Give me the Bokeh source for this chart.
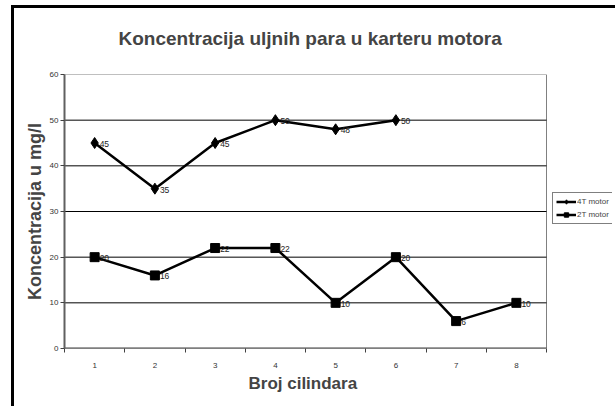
from bokeh.plotting import figure
from bokeh.models import (FixedTicker, Range1d, Legend, LegendItem, Title,
                          ColumnDataSource, InlineStyleSheet)
from bokeh.core.properties import value
from bokeh.embed import file_html
from bokeh.resources import INLINE

title_text = "Koncentracija uljnih para u karteru motora"
x_title = "Broj cilindara"
y_title = "Koncentracija u mg/l"

x_4t = [1, 2, 3, 4, 5, 6]
y_4t = [45, 35, 45, 50, 48, 50]
x_2t = [1, 2, 3, 4, 5, 6, 7, 8]
y_2t = [20, 16, 22, 22, 10, 20, 6, 10]
series_names = ["4T motor", "2T motor"]
y_ticks = [0, 10, 20, 30, 40, 50, 60]
x_ticks = [1, 2, 3, 4, 5, 6, 7, 8]

FONT = "Liberation Sans"

W, H = 615, 406
LEFT, TOP, BOTTOM, RIGHT = 64, 74, 58, 3
DATA_PX = 482          # pixel width of the plotted category area
frame_px = W - LEFT - RIGHT
x0 = 0.5
x1 = x_ticks[-1] + 0.5
x_end = x0 + (x1 - x0) * frame_px / DATA_PX

border_css = InlineStyleSheet(css="""
:host::after {
  content: "";
  position: absolute;
  left: 11px;
  top: 5px;
  width: calc(100% - 11px);
  height: calc(100% - 5px);
  border-left: 3px solid black;
  border-top: 3px solid black;
  box-sizing: border-box;
  pointer-events: none;
}
""")

p = figure(width=W, height=H, output_backend="svg", toolbar_location=None,
           x_range=Range1d(x0, x_end), y_range=Range1d(y_ticks[0], y_ticks[-1]),
           min_border_left=LEFT, min_border_right=RIGHT, min_border_top=TOP,
           min_border_bottom=BOTTOM)
p.stylesheets = [border_css]

p.title.text = title_text
p.title.align = "left"
p.title.offset = 54
p.title.text_font = FONT
p.title.text_font_size = "19px"
p.title.text_font_style = "bold"
p.title.standoff = 51

p.outline_line_color = None
p.xgrid.grid_line_color = None
p.ygrid.grid_line_color = None

# plot-area border and horizontal gridlines
p.quad(left=x0, right=x1, bottom=y_ticks[0], top=y_ticks[-1],
       fill_color=None, line_color="#808080", line_width=1)
inner = y_ticks[1:-1]
p.segment(x0=[x0] * len(inner), x1=[x1] * len(inner), y0=inner, y1=inner,
          line_color="#000000", line_width=1)
p.segment(x0=[x0], x1=[x1], y0=[y_ticks[0]], y1=[y_ticks[0]],
          line_color="#404040", line_width=2)

p.yaxis.ticker = FixedTicker(ticks=y_ticks)
p.yaxis.axis_line_color = "#606060"
p.yaxis.axis_line_width = 2
p.yaxis.major_tick_out = 4
p.yaxis.major_tick_in = 0
p.yaxis.major_tick_line_color = "#404040"
p.yaxis.minor_tick_line_color = None
p.yaxis.major_label_text_font = FONT
p.yaxis.major_label_text_font_size = "8px"
p.yaxis.major_label_text_color = "#333333"
p.yaxis.major_label_standoff = 2
p.yaxis.axis_label = y_title
p.yaxis.axis_label_text_font = FONT
p.yaxis.axis_label_text_font_size = "18px"
p.yaxis.axis_label_text_font_style = "bold"
p.yaxis.axis_label_standoff = 2

xt = [(a + 0.5) for a in [0] + x_ticks]
p.xaxis.ticker = FixedTicker(ticks=x_ticks, minor_ticks=xt)
p.xaxis.axis_line_color = None
p.xaxis.major_tick_line_color = None
p.xaxis.minor_tick_out = 4
p.xaxis.minor_tick_in = 0
p.xaxis.minor_tick_line_color = "#404040"
p.xaxis.minor_tick_line_width = 1
p.xaxis.major_label_text_font = FONT
p.xaxis.major_label_text_font_size = "8px"
p.xaxis.major_label_text_color = "#333333"
p.xaxis.major_label_standoff = 8

xt_title = Title(text=x_title, align="left", offset=184, text_font=FONT,
                 text_font_size="17px", text_font_style="bold", standoff=3)
p.add_layout(xt_title, "below")

s4 = ColumnDataSource(dict(x=x_4t, y=y_4t, t=[str(v) for v in y_4t]))
s2 = ColumnDataSource(dict(x=x_2t, y=y_2t, t=[str(v) for v in y_2t]))

l4 = p.line("x", "y", source=s4, line_color="black", line_width=2.5)
m4 = p.scatter("x", "y", source=s4, marker="diamond", size=11, color="black")
l2 = p.line("x", "y", source=s2, line_color="black", line_width=2.5)
m2 = p.scatter("x", "y", source=s2, marker="square", size=9, color="black")

for s in (s4, s2):
    p.text("x", "y", text="t", source=s, x_offset=5, y_offset=1,
           text_font=value(FONT), text_font_size="8.5px", text_color="#222222",
           text_baseline="middle", text_align="left")

legend = Legend(items=[LegendItem(label=series_names[0], renderers=[l4, m4]),
                       LegendItem(label=series_names[1], renderers=[l2, m2])],
                location=(488, 124), margin=0, padding=3, spacing=2,
                glyph_width=20, glyph_height=11, label_height=11,
                label_standoff=1, label_text_font=FONT,
                label_text_font_size="8px", border_line_color="black",
                border_line_width=1, background_fill_alpha=1)
p.add_layout(legend, "center")

open("out.html", "w").write(file_html(p, INLINE))
